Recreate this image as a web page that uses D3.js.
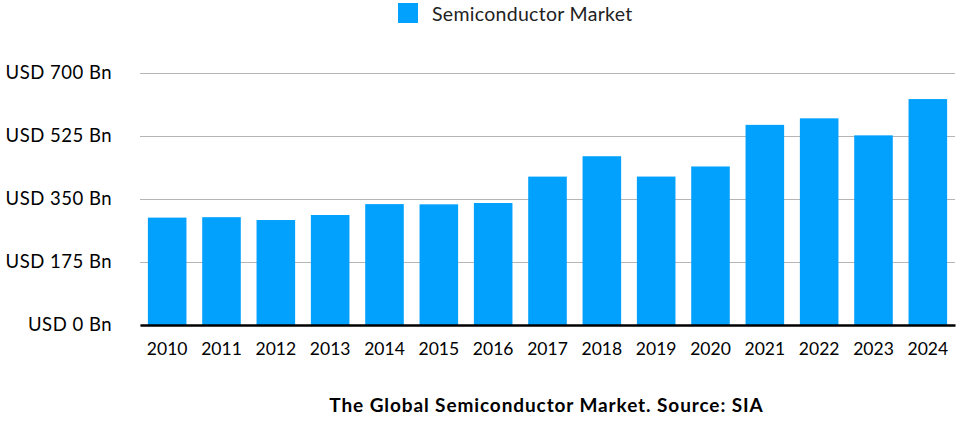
<!DOCTYPE html>
<html>
<head>
<meta charset="utf-8">
<script src="https://cdn.jsdelivr.net/npm/d3@7"></script>
<style>
  body { margin: 0; background: #fff; }
  text { font-family: Lato, "Open Sans", sans-serif; }
</style>
</head>
<body>
<script>
const years = ["2010","2011","2012","2013","2014","2015","2016","2017","2018","2019","2020","2021","2022","2023","2024"];
const market = [298.3, 299.5, 291.6, 305.6, 335.8, 335.2, 338.9, 412.2, 468.8, 412.3, 440.4, 555.9, 574.1, 526.8, 627.6];
const yTicks = [0, 175, 350, 525, 700];
const seriesName = "Semiconductor Market";
const caption = "The Global Semiconductor Market. Source: SIA";

const width = 956, height = 426;
const plotLeft = 140, plotRight = 955, plotTop = 73, plotBottom = 325;
const barColor = "#03a1fe";

const svg = d3.select("body")
        .append("svg")
        .attr("width", width)
        .attr("height", height);

const x = d3.scaleBand()
        .domain(years)
        .range([plotLeft, plotRight])
        .paddingInner(0.29)
        .paddingOuter(0.145);

const y = d3.scaleLinear()
        .domain([0, 700])
        .range([plotBottom, plotTop]);

// gridlines + y labels
const yAxis = d3.axisLeft(y)
        .tickValues(yTicks)
        .tickSize(-(plotRight - plotLeft))
        .tickPadding(28)
        .tickFormat(d => "USD " + d + " Bn");

svg.append("g")
        .attr("transform", "translate(" + plotLeft + ",0)")
        .call(yAxis)
        .call(g => g.select(".domain").remove())
        .call(g => g.selectAll(".tick line").attr("stroke", "#b5b5b5").attr("stroke-width", 1))
        .call(g => g.selectAll(".tick text")
                .attr("fill", "#000")
                .attr("font-size", 18.5)
                .attr("letter-spacing", 0.5)
                .attr("font-family", "Lato, sans-serif"));

svg.selectAll("rect.bar")
        .data(years)
        .enter()
        .append("rect")
        .attr("class", "bar")
        .attr("x", d => x(d))
        .attr("width", x.bandwidth())
        .attr("y", (d, i) => y(market[i]))
        .attr("height", (d, i) => y(0) - y(market[i]))
        .attr("fill", barColor);

// x axis
const xAxis = d3.axisBottom(x)
        .tickSize(0)
        .tickPadding(18);

svg.append("g")
        .attr("transform", "translate(0," + y(0) + ")")
        .call(xAxis)
        .call(g => g.select(".domain").attr("stroke", "#000").attr("stroke-width", 2.5))
        .call(g => g.selectAll(".tick text")
                .attr("fill", "#000")
                .attr("font-size", 17.5)
                .attr("font-family", "Lato, sans-serif"));

// legend
const legend = svg.append("g");
legend.append("rect")
        .attr("x", 398)
        .attr("y", 3)
        .attr("width", 20)
        .attr("height", 20)
        .attr("fill", barColor);
legend.append("text")
        .attr("x", 432)
        .attr("y", 20.5)
        .attr("font-size", 19.5)
        .attr("letter-spacing", 0.3)
        .attr("fill", "#222")
        .text(seriesName);

// caption
svg.append("text")
        .attr("x", (plotLeft + plotRight) / 2 - 1)
        .attr("y", 412)
        .attr("text-anchor", "middle")
        .attr("font-size", 19)
        .attr("letter-spacing", 0.9)
        .attr("font-weight", "bold")
        .attr("fill", "#000")
        .text(caption);
</script>
</body>
</html>
